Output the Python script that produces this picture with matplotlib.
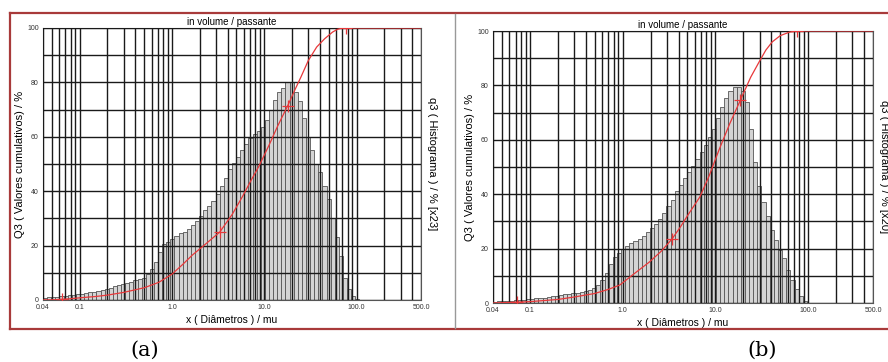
import numpy as np
import matplotlib
matplotlib.use("Agg")
import matplotlib.pyplot as plt
from matplotlib.lines import Line2D

plt.rcParams['font.family'] = ['Liberation Sans', 'DejaVu Sans']

# histogram bins: log spaced from 0.04 to 500 mu
edges = np.geomspace(0.04, 500, 93)

# q3 histogram heights (plotted on the 0-100 scale), one per bin from 0.04 mu
hist_a = [0.8, 1.0, 1.1, 1.2, 1.3,
          1.5, 1.7, 1.9, 2.1, 2.3,
          2.5, 2.8, 3.1, 3.4, 3.7,
          4.1, 4.5, 5.0, 5.5, 6.0,
          6.4, 6.8, 7.2, 7.6, 8.2,
          9.5, 11.5, 14, 17.5, 20.5,
          21.5, 22.5, 23.5, 24.5, 25,
          26, 27.5, 29, 31, 33,
          34.5, 36.5, 39, 42, 45,
          48, 50.5, 52.5, 55, 57.5,
          59.5, 61, 62, 63.5, 66,
          70, 73.5, 76.5, 78, 80,
          80, 76.5, 73, 67, 60,
          55, 50, 47, 42, 37,
          30, 23, 16, 8, 4,
          1.5, 0.5]

hist_b = [0.5, 0.6, 0.7, 0.8, 0.9,
          1.0, 1.1, 1.2, 1.4, 1.5,
          1.7, 1.8, 2.0, 2.2, 2.4,
          2.7, 2.9, 3.2, 3.4, 3.6,
          3.8, 4.0, 4.3, 4.8, 5.5,
          6.8, 8.5, 11, 14.5, 17,
          18.5, 20, 21, 22, 22.7,
          23.5, 24.5, 26, 27.5, 29,
          31, 33, 35.5, 38, 41,
          43.5, 46, 48, 50.5, 53,
          55.5, 58, 61, 64, 68,
          72, 75.5, 78, 79.5, 79.5,
          78, 74, 64, 52, 43,
          37, 32, 27, 23, 19.5,
          16.5, 12, 8.5, 5, 2.5,
          0.8]

# Q3 cumulative curves
cum_a_x = [0.04, 0.055, 0.07, 0.1, 0.15, 0.2, 0.3, 0.5, 0.72, 1.0, 1.3, 1.66, 2.3, 3.3,
           4.5, 5.8, 7.2, 8.7, 11.3, 14, 18, 22, 25, 30, 37, 45, 55, 62, 70, 500]
cum_a_y = [0, 0.1, 0.3, 0.8, 1.3, 1.8, 2.8, 4.5, 6.5, 9.5, 13, 16.5, 20.5, 25,
           31.5, 38, 44, 49, 57, 64, 71.5, 78, 82, 88, 93, 96, 98.5, 99.5, 100, 100]
cum_b_x = [0.04, 0.073, 0.1, 0.2, 0.3, 0.5, 0.7, 0.93, 1.3, 1.93, 2.6, 3.4, 4.2, 5.2,
           6.8, 8.5, 11, 14.3, 18.6, 24, 30, 35, 41, 50, 63, 76, 500]
cum_b_y = [0, 0.3, 0.5, 1.3, 2.2, 3.5, 5, 6.6, 10.5, 15, 19, 23.5, 28, 33,
           39, 46.5, 56.5, 66, 74.6, 83, 89, 93, 96, 98.3, 99.6, 100, 100]

# red cross markers on the curves
mark_a_x = [0.065, 3.3, 18, 76]
mark_a_y = [0.3, 25, 71.5, 100]
mark_b_x = [0.073, 3.4, 18.6, 76]
mark_b_y = [0.3, 23.5, 74.6, 100]

xt_major = [0.04, 0.1, 1, 10, 100, 500]
xt_labels = ['0.04', '0.1', '1.0', '10.0', '100.0', '500.0']
xt_minor = [0.05, 0.06, 0.07, 0.08, 0.09, 0.2, 0.3, 0.4, 0.5, 0.6, 0.7, 0.8, 0.9,
            2, 3, 4, 5, 6, 7, 8, 9, 20, 30, 40, 50, 60, 70, 80, 90, 200, 300, 400]


def panel(fig, rect, hist, cx, cy, mx, my, factor):
    ax = fig.add_axes(rect)
    n = len(hist)
    left = edges[:n]
    width = edges[1:n + 1] - edges[:n]
    ax.bar(left, hist, width=width, align='edge', color='#d4d4d4',
           edgecolor='#555555', linewidth=0.6, zorder=1)
    ax.plot(cx, cy, color='#e8383a', lw=0.9, zorder=4)
    ax.plot(mx, my, '+', color='#e8383a', ms=8, mew=0.9, zorder=4)
    ax.set_xscale('log')
    ax.set_xlim(0.04, 500)
    ax.set_ylim(0, 100)
    ax.set_xticks(xt_major)
    ax.set_xticklabels(xt_labels)
    ax.set_xticks(xt_minor, minor=True)
    ax.set_xticklabels([], minor=True)
    ax.set_yticks(range(0, 101, 10))
    ax.set_yticklabels([str(v) if v % 20 == 0 else '' for v in range(0, 101, 10)])
    ax.set_axisbelow(False)
    ax.grid(True, which='both', axis='x', color='#1a1a1a', lw=1.0)
    ax.grid(True, which='major', axis='y', color='#1a1a1a', lw=1.0)
    ax.tick_params(which='both', length=0, labelsize=5, pad=3, colors='#333')
    for s in ax.spines.values():
        s.set_color('#555')
        s.set_linewidth(0.8)
    ax.set_title('in volume / passante', fontsize=7, pad=2)
    ax.set_xlabel('x ( Diâmetros ) / mu', fontsize=7.5, labelpad=3)
    ax.set_ylabel('Q3 ( Valores cumulativos) / %', fontsize=8)
    ax.yaxis.set_label_coords(-0.047, 0.5)
    ax2 = ax.twinx()
    ax2.set_yticks([])
    ax2.set_ylabel('q3 ( Histograma ) / % [x' + factor + ']', fontsize=8,
                   rotation=270, va='center')
    ax2.yaxis.set_label_coords(1.03, 0.5)
    for s in ax2.spines.values():
        s.set_visible(False)
    return ax


fig = plt.figure(figsize=(8.88, 3.62), dpi=100)
W, H = 888.0, 362.0

panel(fig, [43 / W, 1 - 300 / H, 378 / W, 272 / H], hist_a, cum_a_x, cum_a_y,
      mark_a_x, mark_a_y, '23')
panel(fig, [493 / W, 1 - 303 / H, 380 / W, 272 / H], hist_b, cum_b_x, cum_b_y,
      mark_b_x, mark_b_y, '20')

# outer frame
red = '#a83a3a'
fig.add_artist(Line2D([10 / W, 1], [1 - 13 / H, 1 - 13 / H], color=red, lw=1.6))
fig.add_artist(Line2D([10 / W, 1], [1 - 329 / H, 1 - 329 / H], color=red, lw=1.6))
fig.add_artist(Line2D([10 / W, 10 / W], [1 - 13 / H, 1 - 329 / H], color=red, lw=1.6))
fig.add_artist(Line2D([455 / W, 455 / W], [1 - 14 / H, 1 - 328 / H], color='#999', lw=1.0))

fig.text(145 / W, 1 - 350 / H, '(a)', fontsize=15, family='DejaVu Serif',
         ha='center', va='center')
fig.text(762 / W, 1 - 350 / H, '(b)', fontsize=15, family='DejaVu Serif',
         ha='center', va='center')

fig.savefig('out.png', dpi=100)
